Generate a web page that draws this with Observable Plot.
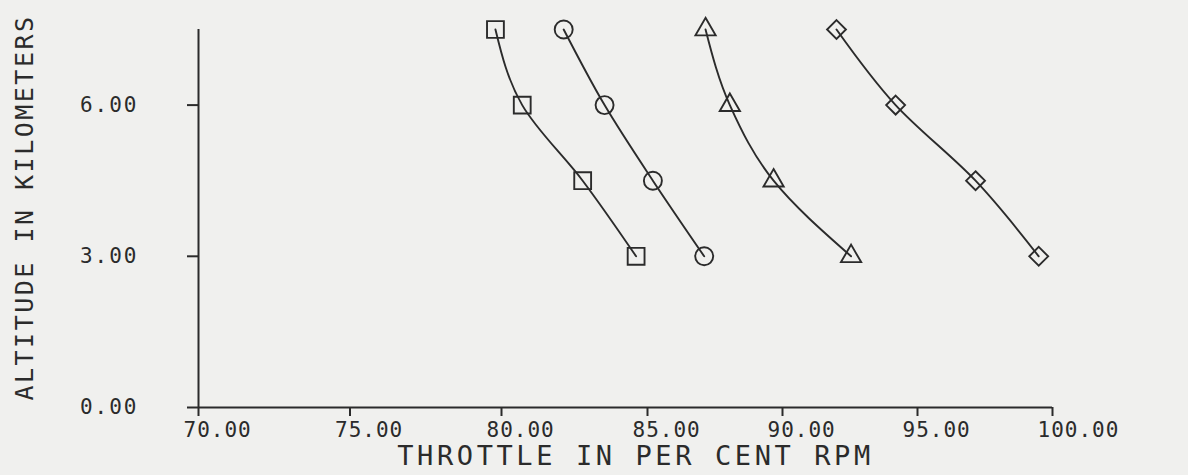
<!DOCTYPE html>
<html>
<head>
<meta charset="utf-8">
<script src="https://cdn.jsdelivr.net/npm/d3@7"></script>
<script src="https://cdn.jsdelivr.net/npm/@observablehq/plot@0.6"></script>
<style>
  html, body { margin: 0; padding: 0; background: #f0f0ee; }
  #chart svg { display: block; background: #f0f0ee; }
</style>
</head>
<body>
<div id="chart"></div>
<script>
// Altitudes (km) shared by all four throttle curves
const altitudeKm = [7.5, 6.0, 4.5, 3.0];

// Throttle (% RPM) at each altitude, one array per plotted curve
const squareRpm   = [79.8, 80.71, 82.78, 84.61];
const circleRpm   = [82.13, 83.53, 85.2, 87.1];
const triangleRpm = [87.15, 88.05, 89.67, 92.54];
const diamondRpm  = [92.0, 94.19, 97.15, 99.49];

// Axis ticks and titles
const xTicks = [70, 75, 80, 85, 90, 95, 100];
const yTicks = [0, 3, 6];
const xTitle = "THROTTLE IN PER CENT RPM";
const yTitle = "ALTITUDE IN KILOMETERS";

const toRows = (name, rpm) => rpm.map((v, i) => ({series: name, rpm: v, alt: altitudeKm[i]}));
const squares   = toRows("square", squareRpm);
const circles   = toRows("circle", circleRpm);
const triangles = toRows("triangle", triangleRpm);
const diamonds  = toRows("diamond", diamondRpm);
const allRows = [...squares, ...circles, ...triangles, ...diamonds];

const ink = "#2b2b2b";
const font = "'DejaVu Sans Mono', monospace";
const fmt = d => d.toFixed(2);

const chart = Plot.plot({
  width: 1188,
  height: 475,
  marginLeft: 198,
  marginRight: 136,
  marginTop: 29,
  marginBottom: 68,
  style: {background: "#f0f0ee", color: ink, fontFamily: font, fontSize: "21px"},
  x: {
    // the printed axis is slightly uneven, so the scale is piecewise linear
    type: "linear",
    domain: [70, 80, 85, 100],
    range: [198, 501, 647, 1052],
    axis: null
  },
  y: {type: "linear", domain: [0, 7.5], axis: null},
  marks: [
    Plot.ruleX([70], {y1: 0, y2: 7.5, stroke: ink, strokeWidth: 2}),
    Plot.ruleY([0], {x1: 70, x2: 100, stroke: ink, strokeWidth: 2}),
    // tick marks only; the labels are placed separately, starting left of each tick
    Plot.axisX({ticks: xTicks, tickSize: 9, strokeWidth: 2, tickFormat: () => "", label: null}),
    Plot.text(xTicks, {
      x: d => d, frameAnchor: "bottom", textAnchor: "start", lineAnchor: "top",
      dx: -15, dy: 15, text: fmt, fill: ink
    }),
    Plot.axisY({
      ticks: yTicks, tickSize: 11, tickPadding: 49, strokeWidth: 2,
      tickFormat: fmt, label: null
    }),
    Plot.line(allRows, {x: "rpm", y: "alt", z: "series", curve: "monotone-y", stroke: ink, strokeWidth: 1.9}),
    Plot.dot(squares,   {x: "rpm", y: "alt", symbol: "square",   r: 9.5, stroke: ink, strokeWidth: 1.9, fill: "none"}),
    Plot.dot(circles,   {x: "rpm", y: "alt", symbol: "circle",   r: 9,   stroke: ink, strokeWidth: 1.9, fill: "none"}),
    Plot.dot(triangles, {x: "rpm", y: "alt", symbol: "triangle", r: 7.5, stroke: ink, strokeWidth: 1.9, fill: "none"}),
    Plot.dot(diamonds,  {x: "rpm", y: "alt", symbol: "diamond2", r: 8.5, stroke: ink, strokeWidth: 1.9, fill: "none"}),
    Plot.text([xTitle], {frameAnchor: "bottom", textAnchor: "middle", lineAnchor: "middle", dx: 10, dy: 49, fontSize: 27, fill: ink}),
    Plot.text([yTitle], {frameAnchor: "left", textAnchor: "middle", lineAnchor: "middle", dx: -174, dy: -11, rotate: -90, fontSize: 25, fill: ink})
  ]
});

document.getElementById("chart").append(chart);

// plotter-style lettering is widely spaced
const texts = d3.select(chart).selectAll("text");
const anchorOf = el => (el.closest("[text-anchor]") || el).getAttribute("text-anchor");
const isTickLabel = el => /^\d+\.00$/.test(el.textContent);
texts.filter(function() { return isTickLabel(this) && anchorOf(this) === "start"; }).style("letter-spacing", "1px");
texts.filter(function() { return isTickLabel(this) && anchorOf(this) !== "start"; }).style("letter-spacing", "2px");
texts.filter(function() { return this.textContent === xTitle; }).style("letter-spacing", "3.6px");
texts.filter(function() { return this.textContent === yTitle; }).style("letter-spacing", "2.5px");
</script>
</body>
</html>
